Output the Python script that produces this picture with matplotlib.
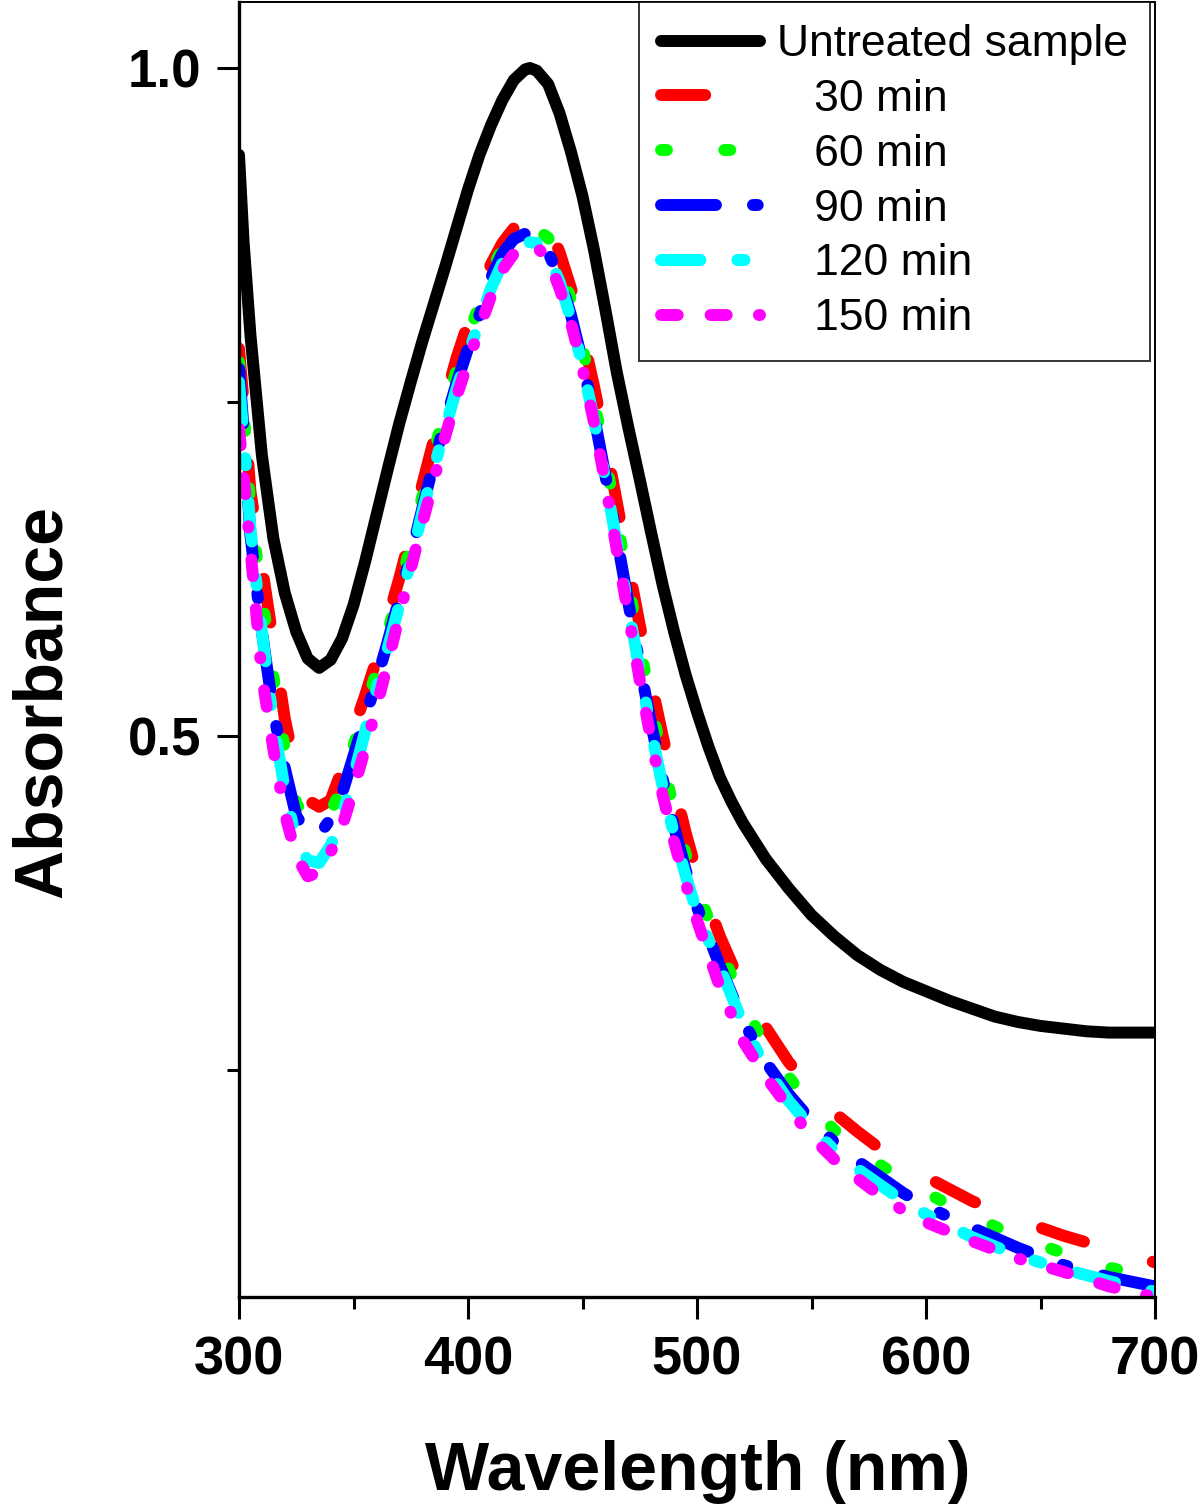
import numpy as np
import matplotlib
matplotlib.use("Agg")
import matplotlib.pyplot as plt
from matplotlib.ticker import MultipleLocator, FixedLocator, NullFormatter

plt.rcParams['font.family'] = ['Liberation Sans', 'DejaVu Sans']

# ---------------- data ----------------
wl_black = [300, 302, 305, 310, 315, 320, 325, 330, 335, 340, 345, 350, 355, 360, 365,
            370, 375, 380, 385, 390, 395, 400, 405, 410, 415, 420, 425, 427, 430, 435,
            440, 445, 450, 455, 460, 465, 470, 475, 480, 485, 490, 495, 500, 505, 510,
            515, 520, 530, 540, 550, 560, 570, 580, 590, 600, 610, 620, 630, 640, 650,
            660, 670, 680, 690, 700]
untreated = [0.935, 0.87, 0.80, 0.71, 0.648, 0.607, 0.578, 0.558, 0.551, 0.557, 0.573,
             0.598, 0.630, 0.665, 0.700, 0.734, 0.765, 0.795, 0.823, 0.851, 0.880, 0.909,
             0.935, 0.957, 0.976, 0.991, 0.999, 1.000, 0.998, 0.988, 0.966, 0.937, 0.904,
             0.864, 0.819, 0.772, 0.731, 0.692, 0.652, 0.613, 0.578, 0.546, 0.518, 0.492,
             0.469, 0.451, 0.435, 0.408, 0.386, 0.366, 0.350, 0.336, 0.325, 0.316, 0.309,
             0.302, 0.296, 0.290, 0.286, 0.283, 0.281, 0.279, 0.278, 0.278, 0.278]

wl = [300, 302, 305, 310, 315, 320, 325, 330, 335, 340, 345, 350, 355, 360, 365, 370,
      375, 380, 385, 390, 395, 400, 405, 410, 415, 420, 425, 430, 435, 440, 445, 450,
      455, 460, 465, 470, 475, 480, 485, 490, 495, 500, 510, 520, 530, 540, 550, 560,
      570, 580, 590, 600, 620, 640, 660, 680, 700]
min30 = [0.790, 0.750, 0.683, 0.627, 0.570, 0.513, 0.472, 0.452, 0.447, 0.452, 0.475,
         0.505, 0.530, 0.557, 0.588, 0.618, 0.651, 0.688, 0.721, 0.752, 0.783, 0.809,
         0.832, 0.853, 0.869, 0.880, 0.888, 0.892, 0.884, 0.862, 0.835, 0.800, 0.762,
         0.720, 0.675, 0.628, 0.583, 0.540, 0.500, 0.463, 0.428, 0.397, 0.350, 0.311,
         0.282, 0.256, 0.235, 0.218, 0.204, 0.191, 0.180, 0.170, 0.152, 0.138, 0.126,
         0.116, 0.106]
min60 = [0.780, 0.745, 0.670, 0.605, 0.545, 0.490, 0.450, 0.434, 0.433, 0.443, 0.462,
         0.493, 0.521, 0.548, 0.578, 0.610, 0.643, 0.679, 0.712, 0.744, 0.774, 0.800,
         0.823, 0.848, 0.865, 0.875, 0.879, 0.879, 0.873, 0.855, 0.826, 0.791, 0.752,
         0.708, 0.662, 0.615, 0.568, 0.524, 0.482, 0.444, 0.412, 0.385, 0.342, 0.300,
         0.268, 0.245, 0.223, 0.205, 0.192, 0.179, 0.168, 0.158, 0.141, 0.125, 0.113,
         0.102, 0.095]
min90 = [0.775, 0.730, 0.650, 0.578, 0.518, 0.476, 0.440, 0.428, 0.426, 0.438, 0.457,
         0.485, 0.513, 0.541, 0.571, 0.603, 0.635, 0.670, 0.704, 0.735, 0.764, 0.790,
         0.815, 0.843, 0.861, 0.872, 0.876, 0.874, 0.862, 0.843, 0.815, 0.780, 0.740,
         0.695, 0.648, 0.600, 0.553, 0.509, 0.468, 0.432, 0.400, 0.372, 0.328, 0.287,
         0.256, 0.232, 0.212, 0.196, 0.182, 0.170, 0.158, 0.148, 0.132, 0.117, 0.104,
         0.095, 0.088]
min120 = [0.765, 0.725, 0.655, 0.578, 0.510, 0.460, 0.422, 0.407, 0.405, 0.418, 0.440,
          0.470, 0.503, 0.535, 0.566, 0.598, 0.631, 0.667, 0.700, 0.730, 0.760, 0.786,
          0.810, 0.835, 0.854, 0.865, 0.870, 0.869, 0.860, 0.840, 0.812, 0.777, 0.737,
          0.692, 0.644, 0.596, 0.549, 0.504, 0.462, 0.426, 0.396, 0.368, 0.327, 0.285,
          0.252, 0.227, 0.207, 0.190, 0.176, 0.164, 0.152, 0.142, 0.125, 0.111, 0.101,
          0.092, 0.084]
min150 = [0.730, 0.695, 0.640, 0.545, 0.490, 0.442, 0.410, 0.395, 0.398, 0.413, 0.432,
          0.460, 0.490, 0.521, 0.555, 0.590, 0.625, 0.659, 0.691, 0.724, 0.754, 0.780,
          0.805, 0.829, 0.849, 0.861, 0.868, 0.866, 0.857, 0.835, 0.809, 0.775, 0.735,
          0.689, 0.639, 0.591, 0.542, 0.497, 0.456, 0.421, 0.390, 0.362, 0.312, 0.272,
          0.245, 0.222, 0.200, 0.183, 0.169, 0.156, 0.145, 0.136, 0.122, 0.109, 0.099,
          0.088, 0.080]

labels = ["Untreated sample", "   30 min", "   60 min", "   90 min", "   120 min", "   150 min"]
colors = ["#000000", "#FF0000", "#00FF00", "#0000FF", "#00FFFF", "#FF00FF"]
x_ticks = [300, 400, 500, 600, 700]
y_ticks = [0.5, 1.0]

# ---------------- figure ----------------
W, H = 1200, 1504
fig = plt.figure(figsize=(W / 100, H / 100), dpi=100)
ax = fig.add_axes([239 / W, 1 - 1297 / H, (1155 - 239) / W, (1297 - 2) / H])

lw = 8.6
styles = [
    '-',
    (0, (3.7, 6.0)),
    (0, (0.5, 4.8)),
    (0, (4.6, 3.1, 0.4, 3.1)),
    (0, (3.3, 3.1, 0.6, 3.1)),
    (0, (1.4, 2.75, 1.35, 2.7, 0.1, 2.7)),
]
series = [untreated, min30, min60, min90, min120, min150]
for i, (y, lab, c, ls) in enumerate(zip(series, labels, colors, styles)):
    xx = wl_black if i == 0 else wl
    ax.plot(xx, y, color=c, lw=lw, linestyle=ls, label=lab,
            solid_capstyle='round', dash_capstyle='round',
            solid_joinstyle='round', dash_joinstyle='round')

ax.set_xlim(300, 700)
ax.set_ylim(0.0801, 1.0494)

ax.xaxis.set_major_locator(FixedLocator(x_ticks))
ax.xaxis.set_minor_locator(MultipleLocator(50))
ax.yaxis.set_major_locator(FixedLocator(y_ticks))
ax.yaxis.set_minor_locator(FixedLocator([0.25, 0.75]))
ax.yaxis.set_minor_formatter(NullFormatter())
ax.set_yticklabels(["0.5", "1.0"])

ax.tick_params(which='major', direction='out', length=16, width=2.2,
               top=False, right=False)
ax.tick_params(which='minor', direction='out', length=8.5, width=2.2,
               top=False, right=False)
ax.tick_params(axis='x', which='major', pad=12)
ax.tick_params(axis='y', which='major', pad=11)
for t in ax.get_xticklabels():
    t.set_fontsize(39)
    t.set_fontweight('bold')
for t in ax.get_yticklabels():
    t.set_fontsize(38)
    t.set_fontweight('bold')

ax.spines['left'].set_linewidth(2.4)
ax.spines['bottom'].set_linewidth(2.4)
ax.spines['top'].set_linewidth(1.4)
ax.spines['right'].set_linewidth(1.4)

fig.text(698 / W, 1 - 1490 / H, "Wavelength (nm)", fontsize=49, fontweight='bold',
         ha='center', va='baseline')
fig.text(43 / W, 1 - 701 / H, "Absorbance", fontsize=49, fontweight='bold',
         rotation=90, ha='center', va='center')

leg = ax.legend(loc='upper right', bbox_to_anchor=((1150 - 239) / 916, 1.0),
                borderaxespad=0, fontsize=32, frameon=True, fancybox=False,
                edgecolor='black', handlelength=2.23, handletextpad=0.38,
                labelspacing=0.31, borderpad=0.5)
leg.get_frame().set_linewidth(1.4)

fig.savefig("out.png", dpi=100)
